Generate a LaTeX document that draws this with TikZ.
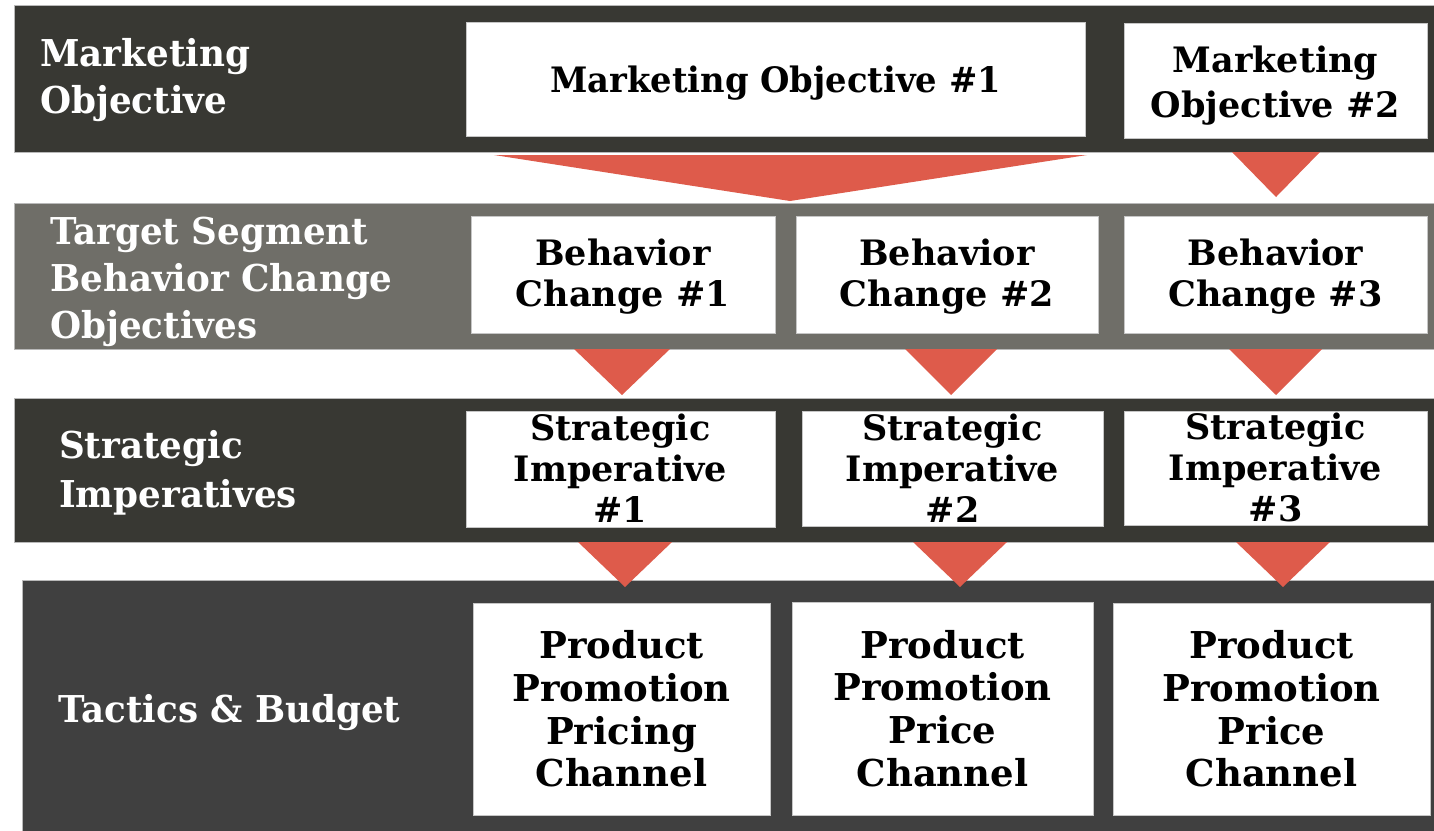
\documentclass[tikz,border=0pt]{standalone}
\usepackage{fontspec}
\setmainfont{DejaVu Serif}
\newfontfamily\narrowserif{DejaVu Serif}[FakeStretch=0.965]
\definecolor{banddark}{HTML}{383833}
\definecolor{bandgray}{HTML}{6F6E68}
\definecolor{bandbase}{HTML}{404040}
\definecolor{arrowred}{HTML}{DE5B4B}
\tikzset{
  band/.style={anchor=north west, inner sep=0pt, draw=gray!55, line width=0.8pt},
  card/.style={fill=white, draw=gray!45, line width=0.6pt, inner sep=0pt},
  cardtext/.style={align=center, inner sep=0pt, text=black,
    font=\bfseries\fontsize{35}{41}\selectfont},
  rowlabel/.style={anchor=west, align=left, inner sep=0pt, text=white,
    font=\narrowserif\bfseries\fontsize{37}{47}\selectfont},
  chevron/.style={fill=arrowred}
}
\begin{document}
\begin{tikzpicture}[x=1pt,y=-1pt]
\useasboundingbox (0,0) rectangle (1434,830);
\fill[white] (0,0) rectangle (1434,830);

% horizontal bands
\node[band, fill=banddark, minimum width=1425pt, minimum height=147pt] (b1) at (14,5) {};
\node[band, fill=bandgray, minimum width=1425pt, minimum height=146pt] (b2) at (14,203) {};
\node[band, fill=banddark, minimum width=1425pt, minimum height=144pt] (b3) at (14,398) {};
\node[band, fill=bandbase, minimum width=1417pt, minimum height=255pt] (b4) at (22,580) {};

% row labels
\node[rowlabel] (l1) at (40,80) {Marketing\\Objective};
\node[rowlabel] (l2) at (50,282) {Target Segment\\Behavior Change\\Objectives};
\node[rowlabel, font=\narrowserif\bfseries\fontsize{37}{49}\selectfont] (l3) at (59,473) {Strategic\\Imperatives};
\node[rowlabel] (l4) at (58,713) {Tactics \& Budget};

% white cards
\node[card, minimum width=619pt, minimum height=114pt] (mo1) at (775.5,79) {};
\node[card, minimum width=303pt, minimum height=115pt] (mo2) at (1275.5,80.5) {};
\node[card, minimum width=304pt, minimum height=117pt] (bc1) at (623,274.5) {};
\node[card, minimum width=302pt, minimum height=117pt] (bc2) at (947,274.5) {};
\node[card, minimum width=303pt, minimum height=117pt] (bc3) at (1275.5,274.5) {};
\node[card, minimum width=309pt, minimum height=116pt] (si1) at (620.5,469) {};
\node[card, minimum width=301pt, minimum height=115pt] (si2) at (952.5,468.5) {};
\node[card, minimum width=303pt, minimum height=114pt] (si3) at (1275.5,468) {};
\node[card, minimum width=297pt, minimum height=212pt] (tb1) at (621.5,709) {};
\node[card, minimum width=301pt, minimum height=213pt] (tb2) at (942.5,708.5) {};
\node[card, minimum width=317pt, minimum height=212pt] (tb3) at (1271.5,709) {};

% card texts
\node[cardtext, font=\narrowserif\bfseries\fontsize{35}{41}\selectfont, yshift=-4.5pt] (mo1t) at (mo1) {Marketing Objective \#1};
\node[cardtext, font=\bfseries\fontsize{35}{45}\selectfont, yshift=-5pt] (mo2t) at (mo2) {Marketing\\Objective \#2};
\node[cardtext, yshift=-2.5pt] (bc1t) at (bc1) {Behavior\\Change \#1};
\node[cardtext, yshift=-2.5pt] (bc2t) at (bc2) {Behavior\\Change \#2};
\node[cardtext, yshift=-2.5pt] (bc3t) at (bc3) {Behavior\\Change \#3};
\node[cardtext, font=\bfseries\fontsize{35}{41}\selectfont, yshift=0.5pt] (si1t) at (si1) {Strategic\\Imperative\\\#1};
\node[cardtext, font=\bfseries\fontsize{35}{41}\selectfont, yshift=0.5pt] (si2t) at (si2) {Strategic\\Imperative\\\#2};
\node[cardtext, font=\bfseries\fontsize{35}{41}\selectfont, yshift=0.5pt] (si3t) at (si3) {Strategic\\Imperative\\\#3};
\node[cardtext, font=\bfseries\fontsize{37}{42.7}\selectfont] (tb1t) at (tb1) {Product\\Promotion\\Pricing\\Channel};
\node[cardtext, font=\bfseries\fontsize{37}{42.7}\selectfont] (tb2t) at (tb2) {Product\\Promotion\\Price\\Channel};
\node[cardtext, font=\bfseries\fontsize{37}{42.7}\selectfont] (tb3t) at (tb3) {Product\\Promotion\\Price\\Channel};

% red chevrons between the rows
\fill[chevron] (494,155) -- (1087,155) -- (790,201) -- cycle;
\fill[chevron] (1232,152) -- (1320,152) -- (1276,197) -- cycle;
\fill[chevron] (574,349) -- (670,349) -- (622,395) -- cycle;
\fill[chevron] (905,349) -- (997,349) -- (951,395) -- cycle;
\fill[chevron] (1229,349) -- (1322,349) -- (1276,395) -- cycle;
\fill[chevron] (578,542) -- (672,542) -- (625,587) -- cycle;
\fill[chevron] (913,542) -- (1007,542) -- (960,587) -- cycle;
\fill[chevron] (1236,542) -- (1330,542) -- (1283,587) -- cycle;
\end{tikzpicture}
\end{document}
